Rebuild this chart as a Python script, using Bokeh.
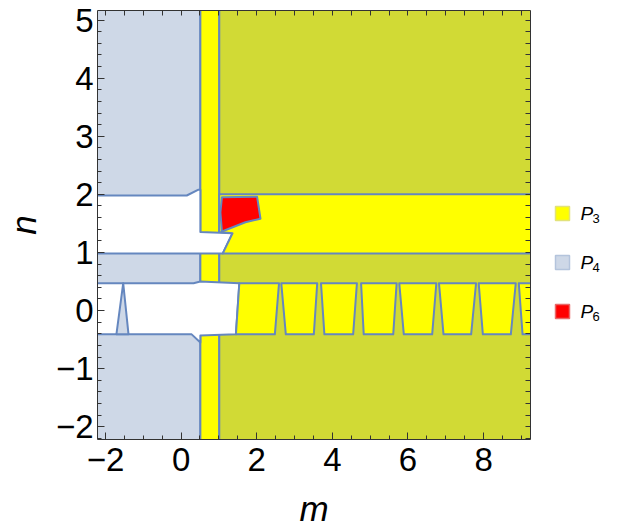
from bokeh.plotting import figure
from bokeh.models import FixedTicker, LinearAxis, Range1d
from bokeh.layouts import row
from bokeh.core.properties import value
from bokeh.embed import file_html
from bokeh.resources import INLINE

# ---- axes ----
m_lim = [-2.21, 9.24]
n_lim = [-2.22, 5.165]
x_major = [-2, 0, 2, 4, 6, 8]
x_minor = [-2.0, -1.5, -1.0, -0.5, 0.0, 0.5, 1.0, 1.5, 2.0, 2.5, 3.0, 3.5, 4.0, 4.5,
           5.0, 5.5, 6.0, 6.5, 7.0, 7.5, 8.0, 8.5, 9.0]
x_labels = {-2: "\u22122", 0: "0", 2: "2", 4: "4", 6: "6", 8: "8"}
y_major = [-2, -1, 0, 1, 2, 3, 4, 5]
y_minor = [-2.2, -2.0, -1.8, -1.6, -1.4, -1.2, -1.0, -0.8, -0.6, -0.4, -0.2, 0.0, 0.2, 0.4,
           0.6, 0.8, 1.0, 1.2, 1.4, 1.6, 1.8, 2.0, 2.2, 2.4, 2.6, 2.8, 3.0, 3.2, 3.4, 3.6,
           3.8, 4.0, 4.2, 4.4, 4.6, 4.8, 5.0]
y_labels = {-2: "\u22122", -1: "\u22121", 0: "0", 1: "1", 2: "2", 3: "3", 4: "4", 5: "5"}

# ---- regions (m, n vertices) ----
# full-height columns: P4 only, P3 band, P3 & P4 overlap
p4_col_m = [-2.3, 0.51, 0.51, -2.3]
p4_col_n = [-2.3, -2.3, 5.3, 5.3]
p3_band_m = [0.51, 1.01, 1.01, 0.51]
p3_band_n = [-2.3, -2.3, 5.3, 5.3]
both_col_m = [1.01, 9.3, 9.3, 1.01]
both_col_n = [-2.3, -2.3, 5.3, 5.3]

# empty (no phase) strips
empty_up_m = [-2.3, 0.15, 0.46, 0.51, 0.51, 1.36, 1.10, -2.3]
empty_up_n = [1.98, 1.98, 2.08, 2.08, 1.35, 1.33, 0.98, 0.98]
empty_lo_m = [-2.3, 0.33, 0.51, 1.54, 1.45, 0.51, 0.51, 0.28, -2.3]
empty_lo_n = [0.47, 0.47, 0.50, 0.47, -0.41, -0.43, -0.55, -0.41, -0.41]

# P4 spike inside lower strip
p4_spike_m = [-1.53, -1.39, -1.71]
p4_spike_n = [0.47, -0.41, -0.41]

# P3 only strip 1<n<2
p3_up_m = [1.01, 9.3, 9.3, 1.10, 1.36, 1.01]
p3_up_n = [2.00, 2.00, 0.98, 0.98, 1.33, 1.35]

# P3 only trapezoids in lower strip
trap_top_left = [1.54, 2.65, 3.70, 4.76, 5.77, 6.82, 7.87, 8.93]
trap_top_right = [2.59, 3.60, 4.65, 5.70, 6.75, 7.80, 8.85, 9.30]
trap_bot_left = [1.45, 2.77, 3.79, 4.83, 5.89, 6.94, 7.98, 9.03]
trap_bot_right = [2.48, 3.51, 4.55, 5.61, 6.64, 7.67, 8.72, 9.30]
trap_top_n = 0.47
trap_bot_n = -0.41

# P6 patch
p6_m = [1.08, 2.01, 2.10, 1.70, 1.08, 1.04]
p6_n = [1.95, 1.96, 1.58, 1.52, 1.36, 1.69]

# ---- colours ----
c_p3 = "#FFFF00"
c_p4 = "#CED8E7"
c_both = "#D1DA35"
c_p6 = "#FF0000"
c_empty = "#FFFFFF"
c_edge = "#6587BF"

legend_names = ["P", "P", "P"]
legend_subs = ["3", "4", "6"]
legend_fill = [c_p3, c_p4, c_p6]
legend_line = ["#E2E27A", "#B4C4DC", "#E86A6A"]

FRAME_W, FRAME_H = 433, 429

p = figure(frame_width=FRAME_W, frame_height=FRAME_H, output_backend="svg",
           toolbar_location=None,
           x_range=Range1d(m_lim[0], m_lim[1]), y_range=Range1d(n_lim[0], n_lim[1]),
           min_border_left=91, min_border_right=10, min_border_top=10, min_border_bottom=0)
p.grid.visible = False
p.outline_line_color = None
p.background_fill_color = "white"

xs, ys, fills = [], [], []
def add(mm, nn, c):
    xs.append(list(mm)); ys.append(list(nn)); fills.append(c)

add(p4_col_m, p4_col_n, c_p4)
add(p3_band_m, p3_band_n, c_p3)
add(both_col_m, both_col_n, c_both)
add(empty_up_m, empty_up_n, c_empty)
add(empty_lo_m, empty_lo_n, c_empty)
add(p4_spike_m, p4_spike_n, c_p4)
add(p3_up_m, p3_up_n, c_p3)
for tl, tr, bl, br in zip(trap_top_left, trap_top_right, trap_bot_left, trap_bot_right):
    add([tl, tr, br, bl], [trap_top_n, trap_top_n, trap_bot_n, trap_bot_n], c_p3)
add(p6_m, p6_n, c_p6)

p.patches(xs=xs, ys=ys, fill_color=fills, line_color=c_edge, line_width=2, line_join="round")

axis_color = "#333333"
xt = FixedTicker(ticks=x_major, minor_ticks=x_minor)
yt = FixedTicker(ticks=y_major, minor_ticks=y_minor)

def style(ax):
    ax.axis_line_color = axis_color
    ax.major_tick_line_color = axis_color
    ax.minor_tick_line_color = axis_color
    ax.major_tick_in = 7
    ax.major_tick_out = 0
    ax.minor_tick_in = 4
    ax.minor_tick_out = 0

p.xaxis.ticker = xt
p.yaxis.ticker = yt
p.xaxis.major_label_overrides = x_labels
p.yaxis.major_label_overrides = y_labels
p.xaxis.axis_label = "m"
p.yaxis.axis_label = "n"
for ax in (p.xaxis[0], p.yaxis[0]):
    style(ax)
    ax.major_label_text_font = "Liberation Sans"
    ax.major_label_text_font_size = "33px"
    ax.major_label_text_color = "black"
    ax.axis_label_text_font = "Liberation Sans"
    ax.axis_label_text_font_size = "35px"
    ax.axis_label_text_font_style = "italic"
    ax.axis_label_text_color = "black"
p.xaxis.major_label_standoff = 8
p.yaxis.major_label_standoff = 4
p.xaxis.axis_label_standoff = 15
p.yaxis.axis_label_standoff = 10

# frame ticks on the top and right edges (no labels)
top_ax = LinearAxis(ticker=FixedTicker(ticks=[], minor_ticks=x_minor))
style(top_ax)
top_ax.minor_tick_in = 5
p.add_layout(top_ax, "above")
right_ax = LinearAxis(ticker=FixedTicker(ticks=[], minor_ticks=y_minor))
style(right_ax)
right_ax.minor_tick_in = 5
p.add_layout(right_ax, "right")

# ---- legend panel: frame aligned with the plot frame, y measured down from its top ----
leg_w = 77
leg_x_box = 22
leg_x_text = 40
leg_x_sub = 52
leg_y0, leg_dy = 203, 49
leg_y = [leg_y0 + i * leg_dy for i in range(len(legend_subs))]

q = figure(frame_width=leg_w, frame_height=FRAME_H, output_backend="svg",
           toolbar_location=None,
           x_range=Range1d(0, leg_w), y_range=Range1d(FRAME_H, 0),
           x_axis_type=None, y_axis_type=None, min_border=0)
q.grid.visible = False
q.outline_line_color = None
q.scatter(x=[leg_x_box] * 3, y=leg_y, marker="square", size=14,
          fill_color=legend_fill, line_color=legend_line, line_width=1.5)
q.text(x=[leg_x_text] * 3, y=leg_y, text=legend_names, text_font=value("Liberation Sans"),
       text_font_style="italic", text_font_size="19px", text_baseline="middle",
       text_align="left", text_color="black")
q.text(x=[leg_x_sub] * 3, y=[v + 5 for v in leg_y], text=legend_subs,
       text_font=value("Liberation Sans"), text_font_size="13px", text_baseline="middle",
       text_align="left", text_color="black")

layout = row(p, q)
open("out.html", "w").write(file_html(layout, INLINE))
